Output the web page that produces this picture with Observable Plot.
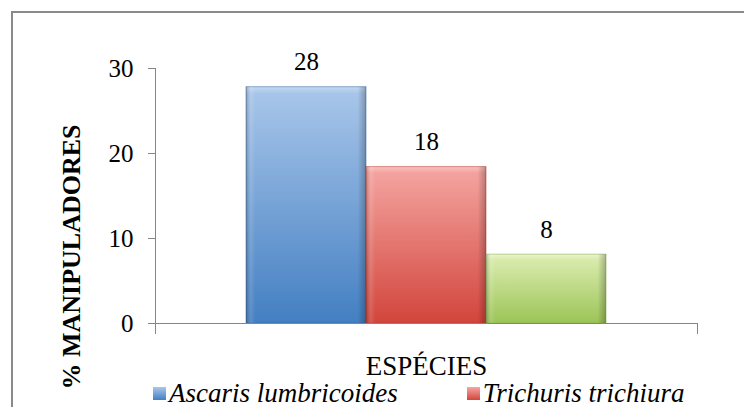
<!DOCTYPE html>
<html>
<head>
<meta charset="utf-8">
<script src="https://cdn.jsdelivr.net/npm/d3@7"></script>
<script src="https://cdn.jsdelivr.net/npm/@observablehq/plot@0.6"></script>
<style>
  html, body { margin: 0; padding: 0; background: #fff; }
  body { width: 744px; height: 407px; overflow: hidden; position: relative; font-family: 'Liberation Serif'; }
  #frame { position: absolute; left: 11px; top: 11px; width: 900px; height: 600px;
           border: 2px solid #8a8a8a; box-sizing: border-box; pointer-events: none; }
  #chart { position: absolute; left: 0; top: 0; }
  #legend { position: absolute; left: 153px; top: 377px; width: 660px; }
  #legend div, #legend span { font-family: 'Liberation Serif' !important; font-size: 27px !important;
        font-style: italic !important; color: #000 !important; margin-bottom: 0 !important; }
  #legend span { margin-right: 69px !important; }
  #legend span > svg { margin-right: 3px !important; }
</style>
</head>
<body>
<svg width="0" height="0" style="position:absolute">
  <defs>
    <linearGradient id="gBlue" x1="0" y1="0" x2="0" y2="1">
      <stop offset="0" stop-color="#c2d9f3"/>
      <stop offset="0.03" stop-color="#a7c5e9"/>
      <stop offset="1" stop-color="#437fc2"/>
    </linearGradient>
    <linearGradient id="gRed" x1="0" y1="0" x2="0" y2="1">
      <stop offset="0" stop-color="#f9c3c0"/>
      <stop offset="0.04" stop-color="#f4a29e"/>
      <stop offset="1" stop-color="#d2453c"/>
    </linearGradient>
    <linearGradient id="gGreen" x1="0" y1="0" x2="0" y2="1">
      <stop offset="0" stop-color="#eaf5cf"/>
      <stop offset="0.08" stop-color="#d8ebab"/>
      <stop offset="1" stop-color="#9cc458"/>
    </linearGradient>
    <linearGradient id="bevelH" x1="0" y1="0" x2="1" y2="0">
      <stop offset="0" stop-color="#000" stop-opacity="0.22"/>
      <stop offset="0.04" stop-color="#fff" stop-opacity="0.12"/>
      <stop offset="0.08" stop-color="#fff" stop-opacity="0"/>
      <stop offset="0.93" stop-color="#000" stop-opacity="0"/>
      <stop offset="1" stop-color="#000" stop-opacity="0.25"/>
    </linearGradient>
  </defs>
</svg>
<div id="frame"></div>
<div id="chart"></div>
<div id="legend"></div>
<script>
// ---- data ----
const species = ["Ascaris lumbricoides", "Trichuris trichiura", "Outra espécie"];
const values = [27.8, 18.4, 8.1];
const valueLabels = ["28", "18", "8"];
const yTicks = [0, 10, 20, 30];
const category = "ESPÉCIES";
const yTitle = "% MANIPULADORES";
const fills = ["url(#gBlue)", "url(#gRed)", "url(#gGreen)"];
const strokes = ["#3b6aa3", "#b43a33", "#86a94c"];
const legendShown = 2; // the third legend entry wraps out of view in the reference

const data = species.map((s, i) => ({ species: s, value: values[i], label: valueLabels[i], cat: category }));

const W = 744, H = 407;
const mL = 155, mR = 47, mT = 68, mB = 84;
const plotH = H - mT - mB;
const FONT = "Liberation Serif";

const chart = Plot.plot({
  width: W, height: H,
  marginLeft: mL, marginRight: mR, marginTop: mT, marginBottom: mB,
  style: { fontFamily: FONT, fontSize: "25px", color: "#000", background: "transparent", overflow: "visible" },
  fx: { domain: [category], padding: 0, label: null },
  x: { domain: species, paddingInner: 0, paddingOuter: 0.75, axis: null },
  y: { domain: [0, 30], label: null },
  color: { domain: species, range: fills },
  marks: [
    Plot.barY(data, { fx: "cat", x: "species", y: "value", fill: "species",
      stroke: d => strokes[species.indexOf(d.species)], strokeOpacity: 0.55, strokeWidth: 1 }),
    Plot.barY(data, { fx: "cat", x: "species", y: "value", fill: "url(#bevelH)" }),
    Plot.frame({ anchor: "left", stroke: "#868686", strokeOpacity: 1, insetBottom: -10 }),
    Plot.frame({ anchor: "right", stroke: "#868686", strokeOpacity: 1, insetTop: plotH, insetBottom: -10 }),
    Plot.ruleY([0], { stroke: "#868686" }),
    Plot.axisY({ ticks: yTicks, tickSize: 7, tickPadding: 15, stroke: "#868686", strokeOpacity: 1,
      fontFamily: FONT, fontSize: 25, fill: "#000", label: null, tickFormat: d => String(d) }),
    Plot.axisFx({ anchor: "bottom", tickSize: 0, tickPadding: 32, fontFamily: FONT, fontSize: 27, fill: "#000", label: null }),
    Plot.text(data, { fx: "cat", x: "species", y: "value", text: "label", dy: -25, fontFamily: FONT, fontSize: 25, fill: "#000" }),
    Plot.text([yTitle], { frameAnchor: "left", text: d => d, rotate: -90, textAnchor: "middle",
      dx: -84, dy: 61, fontFamily: FONT, fontSize: 26, fontWeight: "bold", fill: "#000" })
  ]
});
document.getElementById("chart").appendChild(chart);

const legend = chart.legend("color", { swatchSize: 13, className: "lg" });
legend.querySelectorAll(":scope > span").forEach((el, i) => { if (i >= legendShown) el.remove(); });
document.getElementById("legend").appendChild(legend);
</script>
</body>
</html>
